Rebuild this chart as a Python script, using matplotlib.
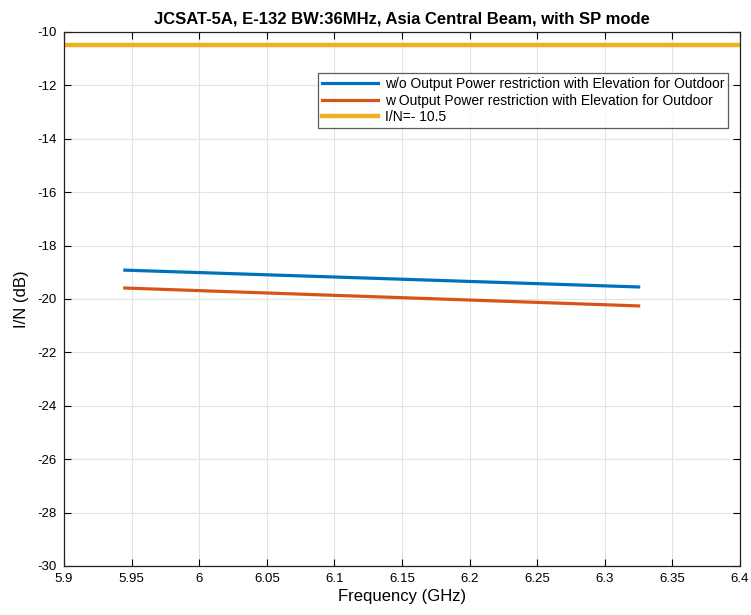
import matplotlib
matplotlib.use("Agg")
import matplotlib.pyplot as plt

plt.rcParams['font.family'] = ['Liberation Sans', 'DejaVu Sans']
plt.rcParams['axes.unicode_minus'] = False

freq = [5.945, 6.325]
wo_restriction = [-18.92, -19.55]
w_restriction = [-19.59, -20.26]
in_threshold = -10.5

labels = ["w/o Output Power restriction with Elevation for Outdoor",
          "w Output Power restriction with Elevation for Outdoor",
          "I/N=- 10.5"]
xticks = [5.9, 5.95, 6.0, 6.05, 6.1, 6.15, 6.2, 6.25, 6.3, 6.35, 6.4]
xticklabels = ["5.9", "5.95", "6", "6.05", "6.1", "6.15", "6.2", "6.25", "6.3", "6.35", "6.4"]
yticks = list(range(-30, -9, 2))

fig = plt.figure(figsize=(7.51, 6.15), dpi=100)
ax = fig.add_axes([0.0852, 0.0797, 0.9002, 0.8683])

ax.plot(freq, wo_restriction, color='#0072BD', lw=2.3, label=labels[0])
ax.plot(freq, w_restriction, color='#D95319', lw=2.3, label=labels[1])
ax.axhline(in_threshold, color='#EDB120', lw=3.2, label=labels[2])

ax.set_xlim(5.9, 6.4)
ax.set_ylim(-30, -10)
ax.set_xticks(xticks)
ax.set_xticklabels(xticklabels)
ax.set_yticks(yticks)
ax.tick_params(direction='in', top=True, right=True, labelsize=9.5, length=5, width=0.8, pad=5)
ax.grid(True, color='#E3E3E3', lw=0.8)
for s in ax.spines.values():
    s.set_linewidth(0.9)
    s.set_color('#222222')

ax.set_xlabel("Frequency (GHz)", fontsize=12, labelpad=3)
ax.set_ylabel("I/N (dB)", fontsize=12, labelpad=6)
ax.set_title("JCSAT-5A, E-132 BW:36MHz, Asia Central Beam, with SP mode",
             fontsize=12, fontweight='bold', pad=6)

leg = ax.legend(loc='upper right', bbox_to_anchor=(0.993, 0.937), fontsize=10,
                frameon=True, fancybox=False, edgecolor='#333333',
                borderpad=0.3, labelspacing=0.2, handlelength=4.0, handletextpad=0.5)
leg.get_frame().set_linewidth(0.9)

fig.savefig("out.png", dpi=100)
